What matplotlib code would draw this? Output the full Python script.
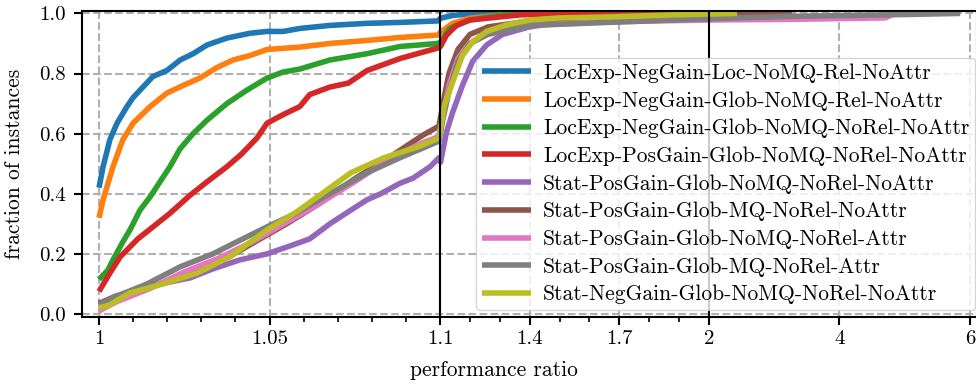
import numpy as np
import matplotlib

matplotlib.use("Agg")

import matplotlib.pyplot as plt
from matplotlib.ticker import FixedLocator, FixedFormatter

plt.rcParams.update({
    "font.family": ["cmr10", "DejaVu Serif"],
    "mathtext.fontset": "cm",
    "axes.formatter.use_mathtext": True,
    "font.size": 15,
})

LABELS = [
    "LocExp-NegGain-Loc-NoMQ-Rel-NoAttr",
    "LocExp-NegGain-Glob-NoMQ-Rel-NoAttr",
    "LocExp-NegGain-Glob-NoMQ-NoRel-NoAttr",
    "LocExp-PosGain-Glob-NoMQ-NoRel-NoAttr",
    "Stat-PosGain-Glob-NoMQ-NoRel-NoAttr",
    "Stat-PosGain-Glob-MQ-NoRel-NoAttr",
    "Stat-PosGain-Glob-NoMQ-NoRel-Attr",
    "Stat-PosGain-Glob-MQ-NoRel-Attr",
    "Stat-NegGain-Glob-NoMQ-NoRel-NoAttr",
]

# performance ratio (x) / fraction of instances (y)
loc_neg_loc_x = [1.0, 1.0012, 1.0032, 1.0053, 1.0082, 1.0100, 1.0129, 1.0158, 1.0199, 1.0238,
                 1.0276, 1.0317, 1.0375, 1.0443, 1.0493, 1.0540, 1.0589, 1.0677, 1.0786, 1.0883,
                 1.0994, 1.1017, 1.142, 1.199, 1.30]
loc_neg_loc_y = [0.42, 0.49, 0.58, 0.635, 0.69, 0.72, 0.755, 0.79, 0.81, 0.845,
                 0.866, 0.895, 0.918, 0.934, 0.94, 0.94, 0.95, 0.96, 0.967, 0.97,
                 0.975, 0.984, 0.993, 0.998, 1.0]

loc_neg_glob_rel_x = [1.0, 1.0012, 1.0041, 1.0070, 1.0100, 1.0150, 1.0199, 1.0246, 1.0296, 1.0346,
                      1.0393, 1.0443, 1.0493, 1.0589, 1.0677, 1.0786, 1.0883, 1.0994, 1.1017, 1.142,
                      1.199, 1.31, 1.45]
loc_neg_glob_rel_y = [0.32, 0.38, 0.49, 0.58, 0.635, 0.69, 0.735, 0.76, 0.785, 0.82,
                      0.845, 0.86, 0.88, 0.888, 0.90, 0.91, 0.92, 0.928, 0.938, 0.967,
                      0.984, 0.995, 1.0]

loc_neg_glob_norel_x = [1.0, 1.0026, 1.0041, 1.0070, 1.0091, 1.0120, 1.0150, 1.0179, 1.0208, 1.0238,
                        1.0276, 1.0317, 1.0375, 1.0434, 1.0493, 1.0540, 1.0589, 1.0677, 1.0786, 1.0883,
                        1.0994, 1.1017, 1.132, 1.199, 1.31, 1.5]
loc_neg_glob_norel_y = [0.115, 0.146, 0.18, 0.24, 0.28, 0.345, 0.39, 0.44, 0.49, 0.55,
                        0.60, 0.645, 0.70, 0.745, 0.785, 0.805, 0.815, 0.845, 0.866, 0.89,
                        0.90, 0.905, 0.95, 0.978, 0.995, 1.0]

loc_pos_glob_x = [1.0, 1.0026, 1.0062, 1.0114, 1.0164, 1.0208, 1.0267, 1.0317, 1.0375, 1.0416,
                  1.0463, 1.0493, 1.0543, 1.0589, 1.0618, 1.0677, 1.0731, 1.0786, 1.0883, 1.0994,
                  1.1017, 1.122, 1.155, 1.199, 1.367, 1.5, 3.27]
loc_pos_glob_y = [0.075, 0.125, 0.19, 0.25, 0.295, 0.335, 0.395, 0.44, 0.49, 0.53,
                  0.585, 0.635, 0.665, 0.69, 0.73, 0.755, 0.768, 0.81, 0.85, 0.885,
                  0.89, 0.928, 0.96, 0.978, 0.995, 1.0, 1.0]

stat_pos_x = [1.0, 1.004, 1.010, 1.018, 1.0267, 1.0334, 1.0413, 1.0493, 1.0569, 1.0618,
              1.0677, 1.0731, 1.0786, 1.0826, 1.0883, 1.0921, 1.0971, 1.0997, 1.1017, 1.1217,
              1.142, 1.175, 1.209, 1.256, 1.309, 1.399, 1.50, 1.70, 1.97, 2.5, 3.0]
stat_pos_y = [0.02, 0.04, 0.07, 0.10, 0.12, 0.15, 0.18, 0.20, 0.23, 0.25,
              0.30, 0.34, 0.38, 0.40, 0.435, 0.452, 0.49, 0.52, 0.505, 0.605,
              0.67, 0.76, 0.84, 0.895, 0.93, 0.955, 0.97, 0.98, 0.99, 0.995, 1.0]

stat_pos_mq_x = [1.0, 1.005, 1.015, 1.025, 1.035, 1.045, 1.055, 1.065, 1.075, 1.085,
                 1.095, 1.0997, 1.11, 1.13, 1.16, 1.20, 1.26, 1.40, 1.66, 2.0, 3.27]
stat_pos_mq_y = [0.035, 0.06, 0.09, 0.125, 0.17, 0.235, 0.30, 0.37, 0.45, 0.52,
                 0.595, 0.625, 0.70, 0.80, 0.88, 0.93, 0.955, 0.975, 0.99, 0.997, 1.0]

stat_pos_attr_x = [1.0, 1.005, 1.015, 1.025, 1.035, 1.045, 1.055, 1.065, 1.075, 1.085,
                   1.095, 1.0997, 1.11, 1.13, 1.16, 1.20, 1.26, 1.40, 1.66, 2.0, 3.2, 4.7, 4.85]
stat_pos_attr_y = [0.01, 0.04, 0.085, 0.14, 0.185, 0.24, 0.305, 0.37, 0.44, 0.515,
                   0.57, 0.59, 0.66, 0.76, 0.85, 0.90, 0.935, 0.96, 0.972, 0.978, 0.98, 0.985, 1.0]

stat_pos_mq_attr_x = [1.0, 1.0032, 1.0141, 1.0238, 1.0334, 1.0413, 1.0493, 1.0569, 1.0677, 1.0786,
                      1.0883, 1.0997, 1.11, 1.13, 1.16, 1.20, 1.26, 1.40, 1.66, 1.88, 2.43, 3.2,
                      4.7, 5.85]
stat_pos_mq_attr_y = [0.03, 0.05, 0.10, 0.157, 0.20, 0.245, 0.29, 0.33, 0.40, 0.47,
                      0.52, 0.575, 0.65, 0.74, 0.84, 0.90, 0.93, 0.96, 0.97, 0.978, 0.985, 0.99,
                      0.995, 1.0]

stat_neg_x = [1.0, 1.003, 1.0091, 1.0188, 1.0287, 1.0384, 1.0493, 1.0580, 1.0629, 1.0739,
              1.0836, 1.0935, 1.0997, 1.1150, 1.1418, 1.175, 1.209, 1.256, 1.323, 1.400,
              1.50, 1.657, 1.878, 2.43]
stat_neg_y = [0.02, 0.03, 0.07, 0.10, 0.136, 0.19, 0.28, 0.34, 0.38, 0.47,
              0.52, 0.556, 0.585, 0.695, 0.77, 0.86, 0.905, 0.94, 0.962, 0.978,
              0.985, 0.988, 0.995, 1.0]

SERIES = [
    (loc_neg_loc_x, loc_neg_loc_y),
    (loc_neg_glob_rel_x, loc_neg_glob_rel_y),
    (loc_neg_glob_norel_x, loc_neg_glob_norel_y),
    (loc_pos_glob_x, loc_pos_glob_y),
    (stat_pos_x, stat_pos_y),
    (stat_pos_mq_x, stat_pos_mq_y),
    (stat_pos_attr_x, stat_pos_attr_y),
    (stat_pos_mq_attr_x, stat_pos_mq_attr_y),
    (stat_neg_x, stat_neg_y),
]

MAJOR_TICKS = [1, 1.05, 1.1, 1.4, 1.7, 2, 4, 6]
MAJOR_LABELS = ["1", "1.05", "1.1", "1.4", "1.7", "2", "4", "6"]
MINOR_TICKS = [1.01, 1.02, 1.03, 1.04, 1.06, 1.07, 1.08, 1.09,
               1.2, 1.3, 1.5, 1.6, 1.8, 1.9]

# piecewise linear x axis: [1, 1.1], [1.1, 2], [2, 6] get their own stretch
_X_BREAKS = np.array([0.0, 1.0, 1.1, 2.0, 10.0])
_U_BREAKS = np.array([-3410.0, 0.0, 341.0, 610.0, 610.0 + 8 * 65.25])


def forward(x):
    return np.interp(x, _X_BREAKS, _U_BREAKS)


def inverse(u):
    return np.interp(u, _U_BREAKS, _X_BREAKS)


def main() -> None:
    fig = plt.figure(figsize=(9.76, 3.84), dpi=100)
    ax = fig.add_axes([81.5 / 976, 67 / 384, (977 - 81.5) / 976, 306 / 384])
    ax.set_xscale("function", functions=(forward, inverse))

    colors = plt.rcParams["axes.prop_cycle"].by_key()["color"]
    for (xs, ys), label, color in zip(SERIES, LABELS, colors):
        ax.plot(xs, ys, color=color, lw=4, label=label, solid_capstyle="butt")

    ax.set_xlim(1 - 17.5 / 3410, 2 + 268 / 65.25)
    ax.set_ylim(-0.01, 1.008)
    ax.xaxis.set_major_locator(FixedLocator(MAJOR_TICKS))
    ax.xaxis.set_major_formatter(FixedFormatter(MAJOR_LABELS))
    ax.xaxis.set_minor_locator(FixedLocator(MINOR_TICKS))
    ax.set_yticks([0.0, 0.2, 0.4, 0.6, 0.8, 1.0])
    ax.set_yticklabels(["0.0", "0.2", "0.4", "0.6", "0.8", "1.0"])

    ax.grid(True, which="major", ls="--", color="#b0b0b0", lw=1.5)
    ax.set_axisbelow(True)
    for x_break in (1.1, 2):
        ax.axvline(x_break, color="black", lw=1.5, zorder=3)
    for spine in ax.spines.values():
        spine.set_linewidth(1.5)
    ax.tick_params(which="major", length=6, width=1.5, labelsize=15)
    ax.tick_params(which="minor", length=3.5, width=1.2)
    ax.tick_params(axis="y", pad=5)

    ax.set_ylabel("fraction of instances", fontsize=15.5, labelpad=11)
    fig.text(494 / 976, 4 / 384, "performance ratio", ha="center", va="bottom", fontsize=15.5)

    ax.legend(loc="upper right", bbox_to_anchor=(975 / 976, 1 - 58 / 384),
              bbox_transform=fig.transFigure, borderaxespad=0, borderpad=0.25,
              labelspacing=0.38, handlelength=2.3, handletextpad=0.56,
              fontsize=15.5)

    fig.savefig("out.png", dpi=100)


if __name__ == "__main__":
    main()
